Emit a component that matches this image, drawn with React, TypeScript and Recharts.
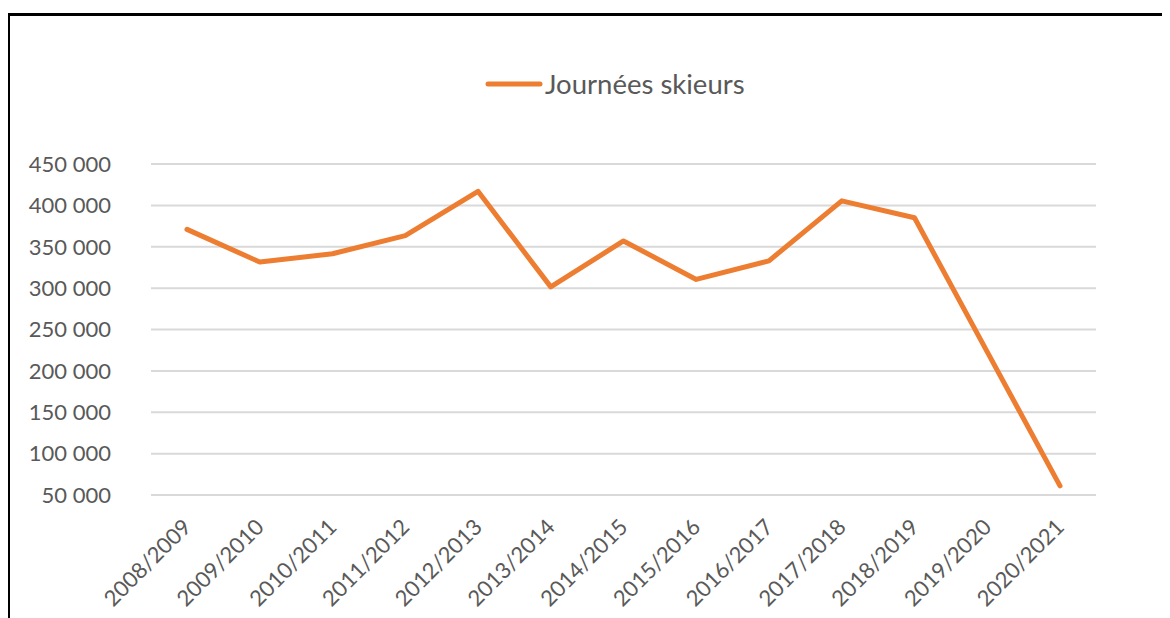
import React from 'react';
import { LineChart, Line, XAxis, YAxis, CartesianGrid, Legend } from 'recharts';

const seasons = [
  '2008/2009', '2009/2010', '2010/2011', '2011/2012', '2012/2013', '2013/2014', '2014/2015',
  '2015/2016', '2016/2017', '2017/2018', '2018/2019', '2019/2020', '2020/2021',
];
const skierDays = [
  371000, 331500, 341500, 363500, 417000, 301500, 357000,
  310500, 333000, 405500, 385000, 223000, 61000,
];
const yTicks = [50000, 100000, 150000, 200000, 250000, 300000, 350000, 400000, 450000];

const data = seasons.map((season, i) => ({ season, value: skierDays[i] }));

const ORANGE = '#ED7D31';
const TEXT = '#595959';
const FONT = 'Lato, "Open Sans", sans-serif';

const formatThousands = (v: number) => String(v).replace(/\B(?=(\d{3})+(?!\d))/g, ' ');

const SeasonTick = (props: any) => {
  const { x, y, payload } = props;
  const ty = y + 26;
  return (
    <text
      x={x}
      y={ty}
      dy="0.35em"
      transform={`rotate(-45, ${x}, ${ty})`}
      textAnchor="end"
      fill={TEXT}
      fontSize={22}
      fontFamily={FONT}
    >
      {payload.value}
    </text>
  );
};

const LegendContent = () => (
  <div style={{ display: 'flex', alignItems: 'center', fontFamily: FONT, fontSize: 27.5, color: TEXT, whiteSpace: 'nowrap' }}>
    <svg width={58} height={10} style={{ marginRight: 2 }}>
      <line x1={3} y1={5} x2={55} y2={5} stroke={ORANGE} strokeWidth={5} strokeLinecap="round" />
    </svg>
    <span>Journées skieurs</span>
  </div>
);

export default function App() {
  return (
    <div
      style={{
        marginLeft: -1,
        marginTop: 5,
        width: 1160,
        height: 605,
        borderLeft: '3px solid #000',
        borderTop: '3px solid #000',
        background: '#fff',
        position: 'relative',
      }}
    >
      <LineChart
        width={1160}
        height={602}
        data={data}
        margin={{ top: 115, right: 74, bottom: 23, left: 0 }}
      >
        <CartesianGrid vertical={false} stroke="#d9d9d9" strokeWidth={2} />
        <XAxis
          dataKey="season"
          interval={0}
          axisLine={false}
          tickLine={false}
          tickSize={0}
          padding={{ left: 36, right: 36 }}
          tick={<SeasonTick />}
          height={100}
        />
        <YAxis
          domain={[50000, 450000]}
          ticks={yTicks}
          width={141}
          axisLine={false}
          tickLine={false}
          tickSize={0}
          tickMargin={40}
          tickFormatter={formatThousands}
          tick={{ fill: TEXT, fontSize: 22, fontFamily: FONT }}
        />
        <Legend
          verticalAlign="top"
          content={<LegendContent />}
          wrapperStyle={{ position: 'absolute', top: 51, left: 475, width: 'auto' }}
        />
        <Line
          type="linear"
          dataKey="value"
          stroke={ORANGE}
          strokeWidth={5}
          strokeLinecap="round"
          strokeLinejoin="round"
          dot={false}
          activeDot={false}
          isAnimationActive={false}
        />
      </LineChart>
    </div>
  );
}
